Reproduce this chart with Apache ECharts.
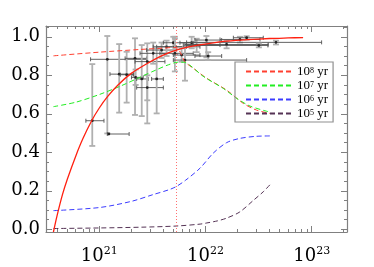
<!DOCTYPE html>
<html><head><meta charset="utf-8">
<script src="https://cdn.jsdelivr.net/npm/echarts@6/dist/echarts.min.js"></script>
<style>html,body{margin:0;padding:0;background:#fff}#c{width:374px;height:267px}</style>
</head><body><div id="c"></div>
<script>
// ---- tick values ----
const xMajorTicks = [1e21, 1e22, 1e23];
const xMinorTicks = [4e20,5e20,6e20,7e20,8e20,9e20,2e21,3e21,4e21,5e21,6e21,7e21,8e21,9e21,2e22,3e22,4e22,5e22,6e22,7e22,8e22,9e22,2e23];
const yMajorTicks = [0, 0.2, 0.4, 0.6, 0.8, 1.0];
const yMinorTicks = [0.05,0.1,0.15,0.25,0.3,0.35,0.45,0.5,0.55,0.65,0.7,0.75,0.85,0.9,0.95,1.05];

// ---- model curves ----
const fitX = [3.7e20,4.0e20,4.5e20,5.0e20,6.0e20,7.0e20,8.5e20,1.0e21,1.2e21,1.5e21,2.0e21,2.8e21,4.0e21,5.5e21,8.0e21,1.1e22,1.6e22,2.5e22,4.0e22,6.0e22,8.3e22];
const fitY = [-0.014,0.07,0.18,0.26,0.38,0.47,0.565,0.63,0.69,0.75,0.81,0.86,0.905,0.933,0.954,0.966,0.977,0.985,0.991,0.994,0.996];

const legendExps = ['8','7','6','5'];
const m8X = [3.7e20,1.0e21,2.4e21,4.0e21,5.3e21,5.9e21,6.4e21,7.7e21,1.03e22,1.58e22,2.27e22,3.03e22,4.05e22];
const m8Y = [0.901,0.92,0.934,0.941,0.945,0.91,0.87,0.836,0.784,0.723,0.654,0.619,0.602];
const m7X = [3.7e20,6e20,1e21,1.6e21,2.4e21,3.5e21,4.5e21,5.5e21,6.2e21,7.1e21,9.5e21,1.47e22,1.97e22,2.63e22,3.9e22];
const m7Y = [0.637,0.66,0.70,0.745,0.789,0.83,0.855,0.868,0.868,0.853,0.795,0.732,0.68,0.64,0.611];
const m6X = [3.7e20,1.0e21,2.0e21,3.2e21,4.5e21,5.3e21,6.5e21,8.9e21,1.18e22,1.58e22,2.1e22,3.0e22,4.1e22];
const m6Y = [0.097,0.113,0.145,0.18,0.205,0.222,0.255,0.318,0.395,0.45,0.472,0.483,0.485];
const m5X = [3.7e20,1.0e21,2.5e21,5.3e21,8.9e21,1.03e22,1.3e22,1.58e22,2.1e22,2.82e22,3.5e22,4.1e22];
const m5Y = [0.004,0.007,0.011,0.017,0.027,0.033,0.044,0.058,0.09,0.15,0.195,0.235];

const markX = 5.3e21;

// ---- observations with error bars ----
const obsX   = [8.59e20,1.19e21,1.23e21,1.54e21,1.81e21,2.17e21,2.2e21,2.51e21,2.83e21,2.83e21,3.47e21,3.22e21,3.86e21,4.3e21,4.98e21,5.15e21,5.15e21,5.96e21,6.41e21,7.41e21,8.26e21,1.02e22,1.06e22,1.58e22,2.11e22,2.44e22,4.61e22,3.18e22];
const obsY   = [0.564,0.883,0.495,0.806,0.803,0.888,0.789,0.781,0.871,0.736,0.781,0.914,0.931,0.948,0.969,0.948,0.914,0.905,0.879,0.969,0.957,0.983,0.9,0.96,0.986,0.995,0.971,0.955];
const obsXlo = [7.48e20,8.28e20,1.19e21,1.26e21,1.58e21,1.75e21,2.01e21,2.25e21,2.17e21,2.25e21,3.11e21,2.42e21,2.79e21,3.22e21,4.01e21,3.47e21,3.72e21,4.98e21,4.98e21,5.75e21,6.18e21,7.96e21,7.96e21,6.41e21,1.37e22,1.83e22,6.64e21,6.64e21];
const obsXhi = [1.107e21,2.79e21,1.91e21,2.09e21,2.09e21,2.79e21,2.59e21,2.89e21,4.15e21,4.01e21,4.01e21,4.3e21,5.35e21,6.64e21,7.67e21,8.87e21,7.67e21,8.87e21,2.44e22,1.03e22,1.37e22,1.42e22,1.42e22,3.9e22,3.26e22,3.5e22,1.24e23,3.87e22];
const obsYlo = [0.433,0.498,0.495,0.606,0.658,0.594,0.75,0.588,0.55,0.67,0.602,0.86,0.89,0.9,0.93,0.91,0.82,0.87,0.772,0.94,0.92,0.893,0.88,0.94,0.97,0.985,0.96,0.945];
const obsYhi = [0.858,1.004,0.495,0.962,0.922,0.992,0.83,0.957,0.966,0.80,0.94,0.97,0.97,0.98,1.0,0.99,1.0,0.94,0.948,1.0,0.99,1.004,0.92,0.98,1.0,1.003,0.98,0.965];

const zip = (xs, ys) => xs.map((x, i) => [x, ys[i]]);
const obsData = obsX.map((x, i) => [x, obsY[i], obsXlo[i], obsXhi[i], obsYlo[i], obsYhi[i]]);

const AX = '#808080';
const xMin = 3.15e20, xMax = 2.15e23, yMin = -0.014, yMax = 1.056;
const serif = 'DejaVu Serif';

function xAxisDef(pos, vals, len, showLine, showLabel) {
  return {
    type: 'log', logBase: 10, min: xMin, max: xMax, position: pos,
    axisLine: {show: showLine, onZero: false, lineStyle: {color: AX, width: 1.2}},
    axisTick: {show: true, inside: true, length: len, customValues: vals, lineStyle: {color: AX, width: 1}},
    splitLine: {show: false}, minorTick: {show: false},
    axisLabel: showLabel ? {
      show: true, customValues: vals, margin: 14,
      formatter: v => '{b|10}{s|' + Math.round(Math.log10(v)) + '}',
      rich: {
        b: {fontFamily: serif, fontSize: 18, color: '#000', lineHeight: 20},
        s: {fontFamily: serif, fontSize: 11, color: '#000', lineHeight: 9, verticalAlign: 'top'}
      }
    } : {show: false}
  };
}
function yAxisDef(pos, vals, len, showLine, showLabel) {
  return {
    type: 'value', min: yMin, max: yMax, position: pos,
    axisLine: {show: showLine, onZero: false, lineStyle: {color: AX, width: 1.2}},
    axisTick: {show: true, inside: true, length: len, customValues: vals, lineStyle: {color: AX, width: 1}},
    splitLine: {show: false},
    axisLabel: showLabel ? {
      show: true, customValues: vals, margin: 6,
      fontFamily: serif, fontSize: 18, color: '#000',
      formatter: v => v.toFixed(1)
    } : {show: false}
  };
}

const dash = [5, 3];
function modelSeries(exp, data, color) {
  return {
    name: exp, type: 'line', data: data, symbol: 'none', smooth: 0.3,
    xAxisIndex: 0, yAxisIndex: 0, z: 3,
    lineStyle: {color: color, width: 1, type: dash}, itemStyle: {color: color}
  };
}

const chart = echarts.init(document.getElementById('c'), null, {renderer: 'canvas'});
chart.setOption({
  animation: false,
  backgroundColor: '#fff',
  grid: {left: 46, right: 27, top: 26, bottom: 35, containLabel: false},
  xAxis: [
    xAxisDef('bottom', xMajorTicks, 6, true, true),
    xAxisDef('bottom', xMinorTicks, 3, false, false),
    xAxisDef('top', xMajorTicks, 6, true, false),
    xAxisDef('top', xMinorTicks, 3, false, false)
  ],
  yAxis: [
    yAxisDef('left', yMajorTicks, 6, true, true),
    yAxisDef('left', yMinorTicks, 3, false, false),
    yAxisDef('right', yMajorTicks, 6, true, false),
    yAxisDef('right', yMinorTicks, 3, false, false)
  ],
  legend: {
    data: legendExps, orient: 'vertical', left: 235, top: 62,
    padding: [3, 5, 2, 10], itemWidth: 46, itemHeight: 9, itemGap: 1,
    borderColor: '#909090', borderWidth: 1.2, backgroundColor: 'transparent',
    itemStyle: {opacity: 0, borderWidth: 0},
    formatter: e => '{b|10}{s|' + e + '}{b| yr}',
    textStyle: {
      lineHeight: 9,
      rich: {
        b: {fontFamily: 'Liberation Serif', fontSize: 13, color: '#000', lineHeight: 9},
        s: {fontFamily: 'Liberation Serif', fontSize: 8, color: '#000', lineHeight: 6, verticalAlign: 'top'}
      }
    }
  },
  series: [
    {
      type: 'custom', xAxisIndex: 0, yAxisIndex: 0, z: 1, clip: true,
      data: obsData,
      encode: {x: 0, y: 1},
      renderItem: function (params, api) {
        const x = api.value(0), y = api.value(1);
        const p = api.coord([x, y]);
        const pl = api.coord([api.value(2), y]);
        const ph = api.coord([api.value(3), y]);
        const pb = api.coord([x, api.value(4)]);
        const pt = api.coord([x, api.value(5)]);
        const vs = {stroke: '#b0b0b0', lineWidth: 1.8};
        const hs = {stroke: '#505050', lineWidth: 0.9};
        const ch = [];
        if (Math.abs(pb[1] - pt[1]) > 1) {
          ch.push({type: 'line', shape: {x1: p[0], y1: pb[1], x2: p[0], y2: pt[1]}, style: vs});
          ch.push({type: 'line', shape: {x1: p[0] - 3, y1: pb[1], x2: p[0] + 3, y2: pb[1]}, style: vs});
          ch.push({type: 'line', shape: {x1: p[0] - 3, y1: pt[1], x2: p[0] + 3, y2: pt[1]}, style: vs});
        }
        ch.push({type: 'line', shape: {x1: pl[0], y1: p[1], x2: ph[0], y2: p[1]}, style: hs});
        ch.push({type: 'line', shape: {x1: pl[0], y1: p[1] - 2, x2: pl[0], y2: p[1] + 2}, style: hs});
        ch.push({type: 'line', shape: {x1: ph[0], y1: p[1] - 2, x2: ph[0], y2: p[1] + 2}, style: hs});
        ch.push({type: 'circle', shape: {cx: p[0], cy: p[1], r: 1.4}, style: {fill: '#222'}});
        return {type: 'group', children: ch};
      }
    },
    modelSeries('8', zip(m8X, m8Y), '#ff4030'),
    modelSeries('7', zip(m7X, m7Y), '#22ee22'),
    modelSeries('6', zip(m6X, m6Y), '#3c3cff'),
    modelSeries('5', zip(m5X, m5Y), '#553355'),
    {
      type: 'line', data: zip(fitX, fitY), symbol: 'none', smooth: 0.3, z: 4,
      xAxisIndex: 0, yAxisIndex: 0,
      lineStyle: {color: '#ff2010', width: 1.3},
      markLine: {
        silent: true, symbol: 'none', label: {show: false},
        lineStyle: {color: '#ff7070', width: 1, type: [1, 2]},
        data: [{xAxis: markX}]
      }
    }
  ]
});
</script></body></html>
